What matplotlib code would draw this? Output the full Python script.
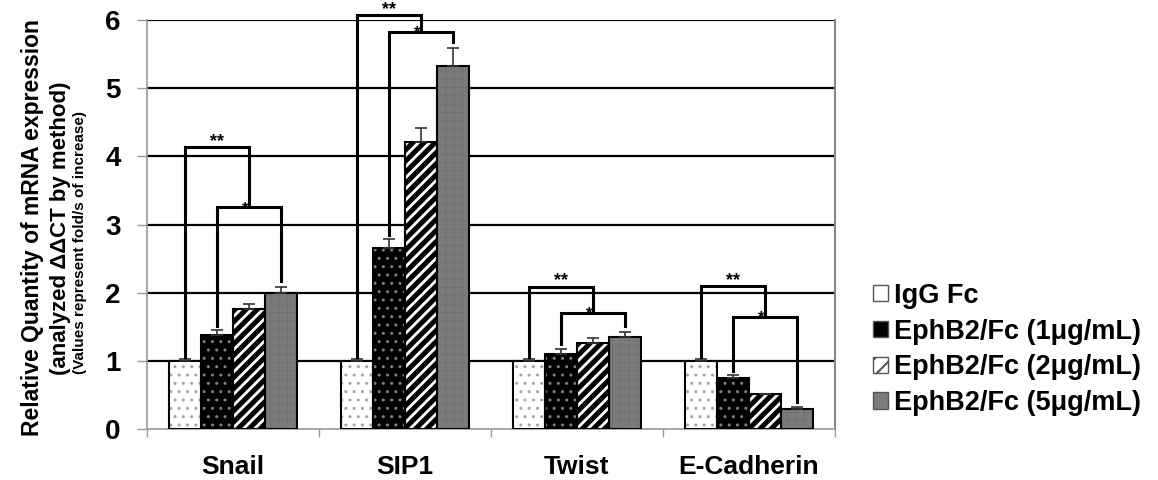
import matplotlib
matplotlib.use("Agg")
import matplotlib.pyplot as plt
from matplotlib.patches import Patch
import numpy as np

plt.rcParams['font.family'] = ['Liberation Sans', 'DejaVu Sans']
plt.rcParams['font.weight'] = 'bold'

categories = ["Snail", "SIP1", "Twist", "E-Cadherin"]
series = ["IgG Fc", "EphB2/Fc (1\u03bcg/mL)", "EphB2/Fc (2\u03bcg/mL)", "EphB2/Fc (5\u03bcg/mL)"]
igg = [1.0, 1.0, 1.0, 1.0]
eph1 = [1.38, 2.66, 1.10, 0.75]
eph2 = [1.76, 4.21, 1.26, 0.51]
eph5 = [2.00, 5.32, 1.35, 0.29]
igg_err = [0.03, 0.03, 0.03, 0.03]
eph1_err = [0.07, 0.13, 0.08, 0.04]
eph2_err = [0.08, 0.20, 0.08, 0.0]
eph5_err = [0.09, 0.27, 0.08, 0.03]
yticks = [0, 1, 2, 3, 4, 5, 6]

# significance brackets heights: "**" (IgG vs group) and "*" (1 vs 5 ug/mL)
br_double = [4.13, 6.07, 2.09, 2.10]
br_single = [3.25, 5.82, 1.70, 1.65]

values = [igg, eph1, eph2, eph5]
errors = [igg_err, eph1_err, eph2_err, eph5_err]
face = ["white", "black", "white", "#7b7b7b"]
hatchc = ["#a5a5a5", "#808080", "black", "#6c6c6c"]
hatches = ["..", "..", "///", "++"]
hlw = [1.0, 1.0, 3.6, 0.4]

fig = plt.figure(figsize=(11.58, 4.8), dpi=100)
ax = fig.add_axes([147/1158, 1-429/480, (835-147)/1158, (429-20)/480])

x = np.arange(len(categories))
w = 0.186
offs = (np.arange(4) - 1.5) * w

for i in range(4):
    pos = x + offs[i]
    plt.rcParams['hatch.linewidth'] = hlw[i]
    ax.bar(pos, values[i], w, color=face[i], edgecolor=hatchc[i], hatch=hatches[i], linewidth=0, zorder=3)
    ax.bar(pos, values[i], w, color='none', edgecolor='black', linewidth=1.5, zorder=4)
    ax.errorbar(pos, values[i], yerr=[np.zeros(4), errors[i]], fmt='none', ecolor='#333333',
                elinewidth=1.2, capsize=4, capthick=1.2, zorder=5)

# brackets
lw = 2.2
for c in range(4):
    xi = x[c] + offs[0]
    x1 = x[c] + offs[1]
    x5 = x[c] + offs[3]
    xm = (x1 + x5) / 2
    top0 = igg[c] + igg_err[c] + 0.02
    top1 = eph1[c] + eph1_err[c] + 0.06
    top5 = eph5[c] + eph5_err[c] + 0.08
    hd = br_double[c]
    hs = br_single[c]
    ax.plot([x1, x1, x5, x5], [top1, hs, hs, top5], color='black', lw=lw, clip_on=False, zorder=6,
            solid_joinstyle='miter')
    ax.plot([xi, xi, xm, xm], [top0, hd, hd, hs], color='black', lw=lw, clip_on=False, zorder=6,
            solid_joinstyle='miter')
    ax.text((xi + xm) / 2, hd + 0.08, "**", ha='center', va='center', fontsize=13, clip_on=False)
    ax.text(xm - 0.02, hs - 0.02, "*", ha='center', va='center', fontsize=12, clip_on=False)

ax.set_xlim(-0.5, 3.5)
ax.set_ylim(0, 6)
ax.set_yticks(yticks)
ax.set_yticklabels([str(t) for t in yticks], fontsize=20, fontweight='bold')
for t in yticks[1:]:
    ax.axhline(t, color='black', lw=1.6, zorder=1)
ax.set_xticks(x)
ax.set_xticklabels(categories, fontsize=19, fontweight='bold')
ax.tick_params(axis='x', length=0, pad=19)
ax.set_xticks(np.arange(-0.5, 4.0, 1.0), minor=True)
ax.tick_params(axis='x', which='minor', length=6, color='#999999', width=1)
ax.tick_params(axis='y', length=7, color='#999999', width=1, pad=12)
for s in ['left', 'bottom']:
    ax.spines[s].set_color('#999999')
    ax.spines[s].set_linewidth(1.2)
ax.spines['top'].set_visible(False)
ax.spines['right'].set_color('#888888')
ax.spines['right'].set_linewidth(1.5)

fig.text(33/1158, 1-228/480, "Relative Quantity of mRNA expression", rotation=90, ha='center', va='center',
         fontsize=16.5, fontweight='bold')
fig.text(61/1158, 1-228/480, "(analyzed \u0394\u0394CT by method)", rotation=90, ha='center', va='center',
         fontsize=16, fontweight='bold')
fig.text(80/1158, 1-243/480, "(Values represent fold/s of increase)", rotation=90, ha='center', va='center',
         fontsize=11, fontweight='bold')

handles = []
leg_hatch = [None, None, "//", None]
for i in range(4):
    handles.append(Patch(facecolor=face[i], edgecolor='#555555', hatch=leg_hatch[i], linewidth=1))
plt.rcParams['hatch.linewidth'] = 1.5
leg = fig.legend(handles, series, loc='upper left', bbox_to_anchor=(862/1158, 1-272/480), frameon=False,
                 prop={'size': 19.5, 'weight': 'bold'}, handlelength=0.55, handleheight=0.55,
                 handletextpad=0.25, labelspacing=0.36, borderaxespad=0)

fig.savefig("out.png", dpi=100)
